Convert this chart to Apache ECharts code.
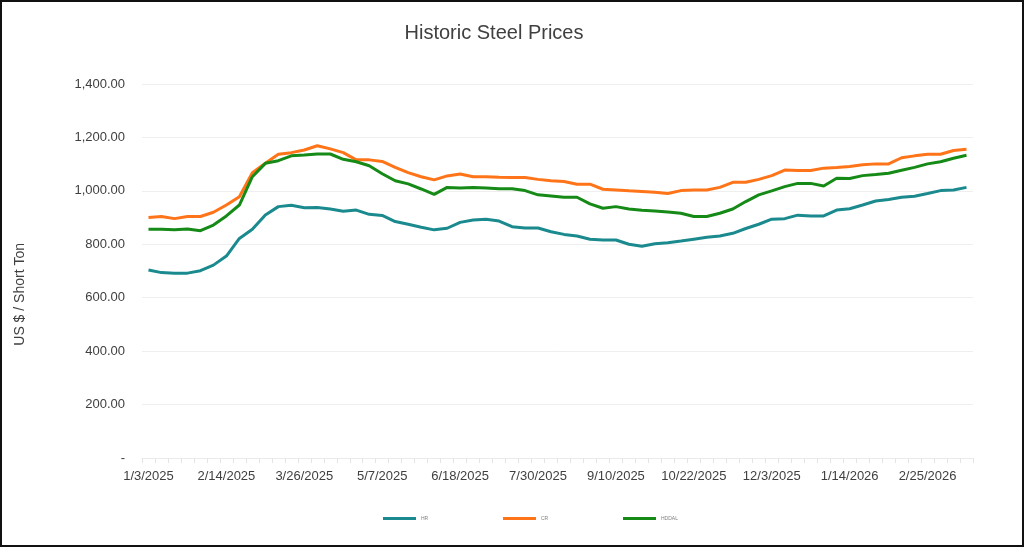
<!DOCTYPE html>
<html>
<head>
<meta charset="utf-8">
<script src="https://cdn.jsdelivr.net/npm/echarts@6/dist/echarts.min.js"></script>
<style>
html,body{margin:0;padding:0;background:#fff;}
#c{width:1024px;height:547px;}
#frame{position:absolute;left:0;top:0;width:1024px;height:547px;box-sizing:border-box;border:2px solid #111;pointer-events:none;}
</style>
</head>
<body>
<div id="c"></div>
<div id="frame"></div>
<script>
const categories = [
"1/3/2025","1/10/2025","1/17/2025","1/24/2025","1/31/2025","2/7/2025","2/14/2025",
"2/19/2025","2/26/2025","3/5/2025","3/12/2025","3/19/2025","3/26/2025","4/2/2025",
"4/9/2025","4/16/2025","4/23/2025","4/30/2025","5/7/2025","5/14/2025","5/21/2025",
"5/28/2025","6/4/2025","6/11/2025","6/18/2025","6/25/2025","7/2/2025","7/9/2025",
"7/16/2025","7/23/2025","7/30/2025","8/6/2025","8/13/2025","8/20/2025","8/27/2025",
"9/3/2025","9/10/2025","9/17/2025","9/24/2025","10/1/2025","10/8/2025","10/15/2025",
"10/22/2025","10/29/2025","11/5/2025","11/12/2025","11/19/2025","11/26/2025","12/3/2025",
"12/10/2025","12/17/2025","12/24/2025","12/31/2025","1/7/2026","1/14/2026","1/21/2026",
"1/28/2026","2/4/2026","2/11/2026","2/18/2026","2/25/2026","3/4/2026","3/11/2026","3/18/2026"
];
const hr = [
704,694,692,692,701,722,756,822,856,910,941,946,937,938,932,924,928,912,908,885,
875,864,854,860,882,891,894,887,866,861,861,847,837,831,819,816,816,800,793,802,
806,812,819,826,831,841,859,875,894,896,909,906,906,928,933,947,962,968,976,980,
990,1001,1003,1013
];
const cr = [
900,904,896,904,904,920,947,978,1068,1103,1137,1143,1153,1169,1157,1143,1116,1116,1110,1088,
1068,1053,1041,1056,1063,1053,1053,1051,1050,1050,1043,1038,1035,1025,1025,1006,1003,1000,998,995,
990,1001,1003,1003,1013,1032,1032,1043,1057,1078,1076,1076,1085,1087,1091,1098,1101,1101,1124,1131,
1137,1137,1151,1156
];
const hddal = [
856,856,854,857,851,872,906,947,1053,1103,1113,1131,1134,1138,1138,1118,1109,1094,1064,1038,
1026,1007,987,1013,1011,1013,1011,1008,1008,1001,985,981,976,976,951,935,941,932,927,925,
921,916,904,904,916,932,960,985,1000,1016,1028,1028,1018,1047,1046,1057,1061,1066,1077,1088,
1101,1109,1122,1133
];
const seriesNames = ['HR','CR','HDDAL'];
const seriesColors = ['#1b8a8e','#ff7418','#168a16'];

const FONT = 'Liberation Sans, Arial, sans-serif';
const chart = echarts.init(document.getElementById('c'), null, {renderer:'canvas'});
const mk = (name, data, color) => ({
  name, type:'line', data, symbol:'none', smooth:false,
  lineStyle:{width:3, color}, itemStyle:{color}
});
const legendLeft = [383, 503, 623];
chart.setOption({
  animation:false,
  backgroundColor:'#ffffff',
  title:{
    text:'Historic Steel Prices', left:489, top:18, textAlign:'center',
    textStyle:{fontFamily:FONT, fontSize:20, fontWeight:'normal', color:'#404040'}
  },
  legend: seriesNames.map((n,i) => ({
    data:[n], left:legendLeft[i], top:513, itemWidth:33, itemHeight:3, icon:'rect',
    textStyle:{fontSize:5, color:'#7f7f7f', fontFamily:FONT}, padding:[3,0,3,0]
  })),
  graphic:[{
    type:'text', left:13, top:243, rotation:Math.PI/2,
    style:{text:'US $ / Short Ton', fontSize:14, fill:'#404040', fontFamily:FONT}
  }],
  grid:{left:142, right:51, top:84, bottom:89, containLabel:false},
  xAxis:{
    type:'category', data:categories, boundaryGap:true,
    axisLine:{lineStyle:{color:'#eaeaea', width:1}},
    axisTick:{show:true, alignWithLabel:false, interval:0, length:5, lineStyle:{color:'#e4e4e4'}},
    axisLabel:{interval:5, color:'#404040', fontSize:13, margin:12, fontFamily:FONT},
    splitLine:{show:false}
  },
  yAxis:{
    type:'value', min:0, max:1400, interval:200,
    axisLine:{show:false}, axisTick:{show:false},
    axisLabel:{
      margin:17, color:'#404040', fontSize:13, fontFamily:FONT,
      formatter:v => v===0 ? '-' : v.toLocaleString('en-US',{minimumFractionDigits:2, maximumFractionDigits:2})
    },
    splitLine:{lineStyle:{color:'#efefef', width:1}}
  },
  series: [hr, cr, hddal].map((d,i) => mk(seriesNames[i], d, seriesColors[i]))
});
</script>
</body>
</html>
